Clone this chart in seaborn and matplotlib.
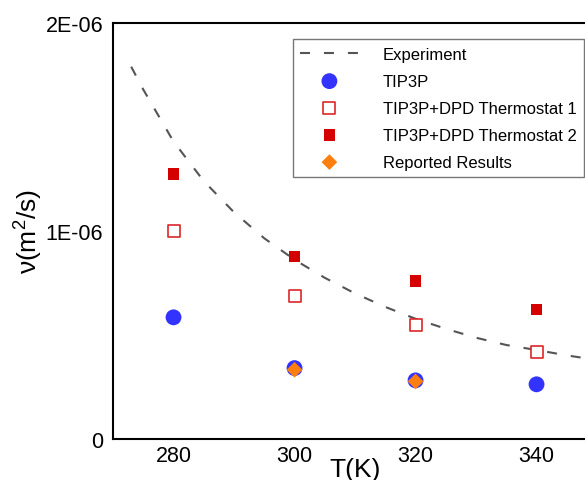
import matplotlib
matplotlib.use("Agg")
import matplotlib.pyplot as plt
import seaborn as sns
import pandas as pd

# ---- data ----
exp_T = [273, 275, 280, 285, 290, 295, 300, 305, 310, 315, 320, 325, 330, 335, 340, 345, 350]
exp_nu = [1.79e-6, 1.68e-6, 1.43e-6, 1.24e-6, 1.09e-6, 0.965e-6, 0.862e-6, 0.775e-6,
          0.70e-6, 0.635e-6, 0.578e-6, 0.530e-6, 0.487e-6, 0.452e-6, 0.428e-6, 0.402e-6, 0.38e-6]

T_sim = [280, 300, 320, 340]
tip3p = [0.585e-6, 0.341e-6, 0.282e-6, 0.263e-6]
dpd1 = [1.0e-6, 0.689e-6, 0.550e-6, 0.420e-6]
dpd2 = [1.273e-6, 0.877e-6, 0.761e-6, 0.622e-6]

T_rep = [300, 320]
reported = [0.333e-6, 0.277e-6]

labels = ["Experiment", "TIP3P", "TIP3P+DPD Thermostat 1",
          "TIP3P+DPD Thermostat 2", "Reported Results"]
yticks = [0, 1e-6, 2e-6]
yticklabels = ["0", "1E-06", "2E-06"]
xticks = [280, 300, 320, 340]

# ---- style ----
sns.set_theme(style="white")
plt.rcParams["font.family"] = ["Liberation Sans", "DejaVu Sans"]
plt.rcParams["mathtext.fontset"] = "custom"
plt.rcParams["mathtext.rm"] = "Liberation Sans"
plt.rcParams["mathtext.it"] = "Liberation Sans"

fig = plt.figure(figsize=(5.85, 4.81), dpi=100)
ax = fig.add_axes([0.1932, 0.0852, 0.8274, 0.8649])

df_exp = pd.DataFrame({"T": exp_T, "nu": exp_nu})
sns.lineplot(data=df_exp, x="T", y="nu", ax=ax, color="#555555", linewidth=1.5,
             dashes=False, label=labels[0], zorder=2)
ax.lines[0].set_dashes((4.8, 6.7))

sns.scatterplot(x=T_sim, y=tip3p, ax=ax, marker="o", s=130, color="#3333ff",
                edgecolor="none", linewidth=0, label=labels[1], zorder=3)
sns.scatterplot(x=T_sim, y=dpd1, ax=ax, marker="s", s=64, facecolor="white",
                edgecolor="#dd2828", linewidth=1.2, label=labels[2], zorder=3)
sns.scatterplot(x=T_sim, y=dpd2, ax=ax, marker="s", s=71, color="#d40000",
                edgecolor="none", linewidth=0, label=labels[3], zorder=3)
sns.scatterplot(x=T_rep, y=reported, ax=ax, marker="D", s=64, color="#ff7f0e",
                edgecolor="none", linewidth=0, label=labels[4], zorder=4)

ax.set_xlim(270, 350)
ax.set_ylim(0, 2e-6)
ax.set_xticks(xticks)
ax.set_xticklabels([str(t) for t in xticks])
ax.set_yticks(yticks)
ax.set_yticklabels(yticklabels)

for s in ax.spines.values():
    s.set_color("black")
    s.set_linewidth(1.5)
ax.tick_params(axis="both", direction="in", length=7.5, width=1.5, color="black",
               labelsize=15.5, labelcolor="black")
ax.tick_params(axis="y", pad=7)
ax.tick_params(axis="x", pad=4)

ax.set_xlabel("T(K)", fontsize=19, labelpad=-6, color="black")
ax.set_ylabel("ν(m$^2$/s)", fontsize=19, labelpad=0.5, color="black")

leg = ax.legend(loc="upper left", bbox_to_anchor=((292.7 - 113) / 484, (440 - 40) / 416),
                fontsize=12, frameon=True, fancybox=False, handlelength=3.5,
                handletextpad=1.45, labelspacing=0.72, borderpad=0.45, borderaxespad=0)
leg.get_frame().set_edgecolor("#555555")
leg.get_frame().set_linewidth(1.0)
for t in leg.get_texts():
    t.set_color("black")

fig.savefig("out.png", dpi=100)
